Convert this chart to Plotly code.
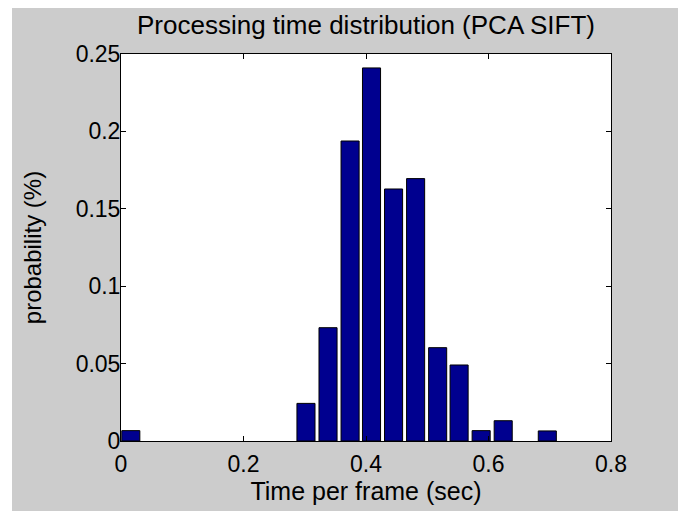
import plotly.graph_objects as go

# Histogram bin centres (sec) and probabilities
bin_centers = [0.016, 0.052, 0.088, 0.123, 0.159, 0.195, 0.231, 0.266, 0.302, 0.338,
               0.374, 0.409, 0.445, 0.481, 0.517, 0.552, 0.588, 0.624, 0.660, 0.696]
probabilities = [0.0067, 0, 0, 0, 0, 0, 0, 0, 0.0243, 0.0732,
                 0.1938, 0.2410, 0.1628, 0.1695, 0.0603, 0.0491, 0.0067, 0.0131, 0, 0.0065]
x_ticks = [0, 0.2, 0.4, 0.6, 0.8]
x_tick_labels = ["0", "0.2", "0.4", "0.6", "0.8"]
y_ticks = [0, 0.05, 0.1, 0.15, 0.2, 0.25]
y_tick_labels = ["0", "0.05", "0.1", "0.15", "0.2", "0.25"]

FONT = "Liberation Sans, Arial, sans-serif"

# empty bins get no outline, so the axis line stays clean
outline_widths = [1 if p > 0 else 0 for p in probabilities]

fig = go.Figure()
fig.add_trace(go.Bar(
    x=bin_centers,
    y=probabilities,
    width=0.0295,
    marker=dict(color="#00008f", line=dict(color="black", width=outline_widths)),
    showlegend=False,
))

W, H = 678, 511
L, R, T, B = 121, 67, 54, 70
PW, PH = W - L - R, H - T - B

fig.update_layout(
    width=W, height=H,
    margin=dict(l=L, r=R, t=T, b=B, pad=0, autoexpand=False),
    paper_bgcolor="#cccccc",
    plot_bgcolor="white",
    font=dict(family=FONT, size=22, color="black"),
    title=dict(text="Processing time distribution (PCA SIFT)",
               x=0.5, xref="paper", xanchor="center",
               y=1 - 25 / H, yref="container", yanchor="middle",
               font=dict(family=FONT, size=26, color="black")),
    xaxis=dict(range=[0, 0.8], tickvals=x_ticks, ticktext=x_tick_labels,
               ticks="inside", ticklen=5, tickcolor="black", tickwidth=1,
               showline=True, linecolor="black", linewidth=1, mirror="ticks",
               showgrid=False, zeroline=False, automargin=False,
               tickfont=dict(size=23),
               title=dict(text="Time per frame (sec)", standoff=4,
                          font=dict(size=25)),
               ticklabelstandoff=2),
    yaxis=dict(range=[0, 0.25], tickvals=y_ticks, ticktext=y_tick_labels,
               ticks="inside", ticklen=5, tickcolor="black", tickwidth=1,
               showline=True, linecolor="black", linewidth=1, mirror="ticks",
               showgrid=False, zeroline=False, automargin=False,
               tickfont=dict(size=23),
               title=dict(text="probability (%)", standoff=27,
                          font=dict(size=24)),
               ticklabelstandoff=-5),
    shapes=[
        # white strips at the left and top edges of the picture
        dict(type="rect", xref="paper", yref="paper", layer="above",
             x0=-L / PW, x1=(12 - L) / PW, y0=-B / PH, y1=1 + T / PH,
             fillcolor="white", line=dict(width=0)),
        dict(type="rect", xref="paper", yref="paper", layer="above",
             x0=-L / PW, x1=1 + R / PW, y0=1 + (T - 8) / PH, y1=1 + T / PH,
             fillcolor="white", line=dict(width=0)),
    ],
)

fig.write_html("out.html")
